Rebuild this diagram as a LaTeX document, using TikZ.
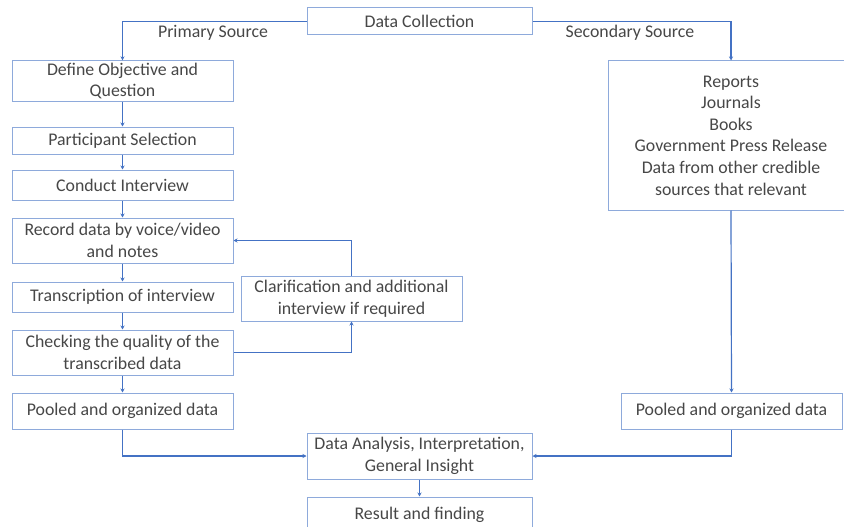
\documentclass[tikz,border=0pt]{standalone}
\usepackage{fontspec}
\setmainfont{Carlito}
\usetikzlibrary{arrows.meta}
\definecolor{boxline}{HTML}{8EAADB}
\definecolor{conn}{HTML}{4472C4}
\definecolor{txt}{HTML}{474747}
\begin{document}
\begin{tikzpicture}[x=1pt,y=-1pt,
  box/.style={draw=boxline, line width=1pt, rectangle, align=center, inner sep=2pt,
    text=txt, font=\fontsize{17.8}{21.6}\selectfont},
  lbl/.style={text=txt, font=\fontsize{17.8}{21.6}\selectfont, inner sep=0pt},
  conn/.style={draw=conn, line width=1.2pt, -{Stealth[length=4pt,width=4pt]}},
  ]
\fill[white] (0,0) rectangle (844,527);
\clip (0,0) rectangle (844,527);
\node[box, minimum width=225pt, minimum height=27pt] (dc) at (419.5,21.5) {Data Collection};
\node[box, minimum width=221pt, minimum height=40pt] (def) at (122.5,81) {Define Objective and\\Question};
\node[box, minimum width=221pt, minimum height=27pt] (ps) at (122.5,140.5) {Participant Selection};
\node[box, minimum width=221pt, minimum height=30pt] (ci) at (122.5,185) {Conduct Interview};
\node[box, minimum width=221pt, minimum height=45pt] (rec) at (122.5,240.5) {Record data by voice/video\\and notes};
\node[box, minimum width=221pt, minimum height=30pt] (tr) at (122.5,297) {Transcription of interview};
\node[box, minimum width=221pt, minimum height=45pt] (chk) at (122.5,352.5) {Checking the quality of the\\transcribed data};
\node[box, minimum width=221pt, minimum height=36pt] (pl) at (122.5,411) {Pooled and organized data};
\node[box, minimum width=221pt, minimum height=45pt] (cl) at (351.5,298.5) {Clarification and additional\\interview if required};
\node[box, minimum width=246pt, minimum height=149pt] (sec) at (731,135.5) {Reports\\Journals\\Books\\Government Press Release\\Data from other credible\\sources that relevant};
\node[box, minimum width=221pt, minimum height=36pt] (pr) at (731.5,411) {Pooled and organized data};
\node[box, minimum width=225pt, minimum height=46pt] (da) at (419.5,456) {Data Analysis, Interpretation,\\General Insight};
\node[box, minimum width=225pt, minimum height=36pt] (res) at (419.5,515) {Result and finding};
\node[lbl] (pslbl) at (213,33) {Primary Source};
\node[lbl] (sslbl) at (630,33) {Secondary Source};
\draw[conn] (dc.west) -| (def.north);
\draw[conn] (dc.east) -| (sec.north);
\draw[conn] (def) -- (ps);
\draw[conn] (ps) -- (ci);
\draw[conn] (ci) -- (rec);
\draw[conn] (rec) -- (tr);
\draw[conn] (tr) -- (chk);
\draw[conn] (chk) -- (pl);
\draw[conn] (chk.east) -| (cl.south);
\draw[conn] (cl.north) |- (rec.east);
\draw[conn] (pl.south) |- (da.west);
\draw[conn] (sec.south) -- (pr.north);
\draw[conn] (pr.south) |- (da.east);
\draw[conn] (da) -- (res);
\end{tikzpicture}
\end{document}
